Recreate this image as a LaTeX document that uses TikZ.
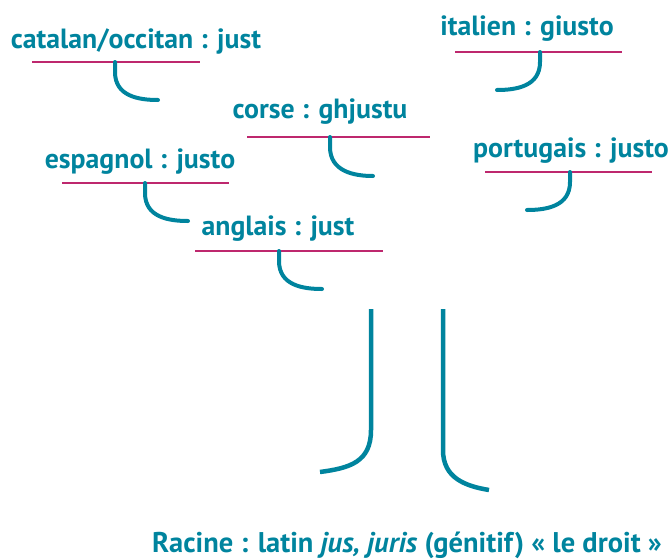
\documentclass[tikz,border=0pt]{standalone}
\usepackage{fontspec}
\setmainfont{PT Sans}
\definecolor{teal}{RGB}{0,132,158}
\definecolor{rose}{RGB}{190,40,110}
\begin{document}
\begin{tikzpicture}[x=1pt,y=-1pt,
  word/.style={text=teal,font=\bfseries\fontsize{27.8}{30}\selectfont,inner sep=0pt,anchor=base},
  rule/.style={draw=rose,line width=2pt},
  hook/.style={draw=teal,line width=4pt,line cap=round},
  trunk/.style={draw=teal,line width=4.5pt}]
\useasboundingbox (0,0) rectangle (670,560);

% labels
\node[word] (cat) at (136,48) {catalan/occitan : just};
\node[word] (ita) at (527,35) {italien : giusto};
\node[word] (cor) at (320,118) {corse : ghjustu};
\node[word] (por) at (571,157) {portugais : justo};
\node[word] (esp) at (140,168) {espagnol : justo};
\node[word] (ang) at (278,235) {anglais : just};
\node[word,font=\bfseries\fontsize{28.5}{30}\selectfont] (rac) at (407,552) {Racine : latin \textit{jus, juris} (génitif) « le droit »};

% underlines
\coordinate (catA) at (32,62);  \coordinate (catB) at (200,62);
\coordinate (itaA) at (455,52); \coordinate (itaB) at (622,52);
\coordinate (corA) at (247,137); \coordinate (corB) at (430,137);
\coordinate (porA) at (485,172); \coordinate (porB) at (652,172);
\coordinate (espA) at (62,183); \coordinate (espB) at (229,183);
\coordinate (angA) at (195,251); \coordinate (angB) at (383,251);
\foreach \w in {cat,ita,cor,por,esp,ang}
  \draw[rule] (\w A) -- (\w B);

% hooks hanging from the underlines
\coordinate (catH) at (115,62);  \coordinate (catE) at (158,100);
\coordinate (itaH) at (540,52);  \coordinate (itaE) at (497,90);
\coordinate (corH) at (330,137); \coordinate (corE) at (373,176);
\coordinate (porH) at (570,172); \coordinate (porE) at (527,210);
\coordinate (espH) at (145,183); \coordinate (espE) at (188,221);
\coordinate (angH) at (279,251); \coordinate (angE) at (322,289);

\foreach \w in {cat,cor,esp,ang}
  \draw[hook] (\w H) -- ++(0,10) .. controls +(0,24) and +(-20,0) .. (\w E);
\foreach \w in {ita,por}
  \draw[hook] (\w H) -- ++(0,10) .. controls +(0,24) and +(20,0) .. (\w E);

% trunk
\coordinate (tl) at (371,309); \coordinate (tlE) at (320,472);
\coordinate (tr) at (443,309); \coordinate (trE) at (489,490);
\draw[trunk] (tl) -- (371,430) .. controls (371,462) and (350,468) .. (tlE);
\draw[trunk] (tr) -- (443,450) .. controls (443,478) and (465,486) .. (trE);
\end{tikzpicture}
\end{document}
